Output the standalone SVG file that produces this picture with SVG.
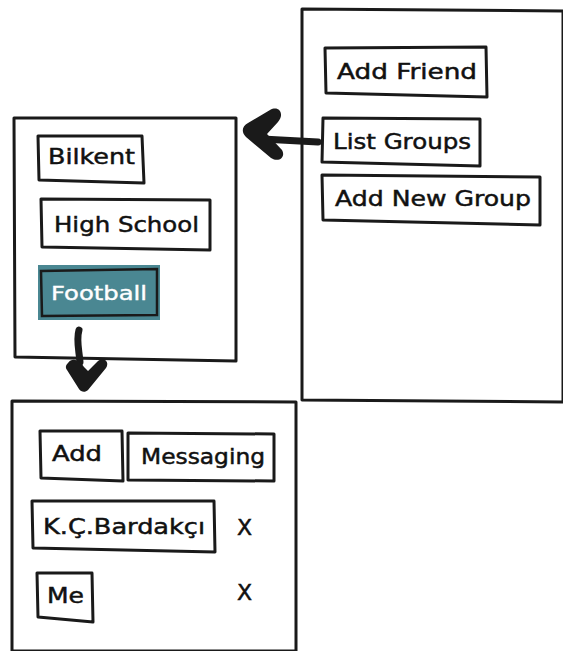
<svg xmlns="http://www.w3.org/2000/svg" width="563" height="651" viewBox="0 0 563 651">
<style>
.panel{fill:#fff;stroke:#1a1a1a;stroke-width:3;stroke-linejoin:round}
.btn{fill:#fff;stroke:#1a1a1a;stroke-width:3;stroke-linejoin:round}
.t{font-family:"DejaVu Sans",sans-serif;font-size:22px;fill:#111;stroke:#111;stroke-width:0.5}
.tw{font-family:"DejaVu Sans",sans-serif;font-size:20px;fill:#fff;stroke:#fff;stroke-width:0.4}
.arr{fill:none;stroke:#1a1a1a;stroke-width:7;stroke-linecap:round;stroke-linejoin:round}
</style>
<rect width="563" height="651" fill="#fff"/>
<g id="main-panel">
<path class="panel" d="M302 9 L563 11 L563 402 L302 400 Z"/>
</g>
<g id="add-friend">
<path class="btn" d="M325 48 L486 47 L487 97 L326 93 Z"/>
<text class="t" x="337" y="79" textLength="140" lengthAdjust="spacingAndGlyphs">Add Friend</text>
</g>
<g id="list-groups">
<path class="btn" d="M323 118 L480 119 L480 166 L322 162 Z"/>
<text class="t" x="333" y="149" textLength="138" lengthAdjust="spacingAndGlyphs">List Groups</text>
</g>
<g id="add-new-group">
<path class="btn" d="M322 175 L540 177 L540 225 L323 220 Z"/>
<text class="t" x="335" y="206" textLength="196" lengthAdjust="spacingAndGlyphs">Add New Group</text>
</g>
<g id="groups-panel">
<path class="panel" d="M14 118 L236 118 L236 361 L15 357 Z"/>
</g>
<g id="bilkent">
<path class="btn" d="M38 136 L142 136 L144 183 L39 180 Z"/>
<text class="t" x="48" y="164" textLength="87" lengthAdjust="spacingAndGlyphs">Bilkent</text>
</g>
<g id="high-school">
<path class="btn" d="M41 199 L210 200 L210 250 L42 247 Z"/>
<text class="t" x="54" y="232" textLength="145" lengthAdjust="spacingAndGlyphs">High School</text>
</g>
<g id="football">
<rect x="38" y="265" width="122" height="55" fill="#4a8792"/>
<path fill="none" stroke="#1a1a1a" stroke-width="2.5" d="M41 271 L157 269 L157 315 L42 316 Z"/>
<text class="tw" x="51" y="300" textLength="96" lengthAdjust="spacingAndGlyphs">Football</text>
</g>
<g id="members-panel">
<path class="panel" d="M12 401 L296 402 L296 651 L12 651 Z"/>
</g>
<g id="add">
<path class="btn" d="M40 431 L122 431 L123 481 L41 478 Z"/>
<text class="t" x="52" y="461" textLength="50" lengthAdjust="spacingAndGlyphs">Add</text>
</g>
<g id="messaging">
<path class="btn" d="M128 433 L274 434 L274 481 L128 480 Z"/>
<text class="t" x="141" y="464" textLength="124" lengthAdjust="spacingAndGlyphs">Messaging</text>
</g>
<g id="bardakci">
<path class="btn" d="M32 501 L214 501 L215 552 L33 548 Z"/>
<text class="t" x="43" y="534" textLength="162" lengthAdjust="spacingAndGlyphs">K.Ç.Bardakçı</text>
</g>
<text class="t" x="237" y="535">X</text>
<g id="me">
<path class="btn" d="M37 573 L92 573 L93 622 L38 617 Z"/>
<text class="t" x="47" y="603" textLength="37" lengthAdjust="spacingAndGlyphs">Me</text>
</g>
<text class="t" x="237" y="600">X</text>
<g id="connectors">
<path class="arr" d="M318 142 L262 139"/>
<path d="M270 110 C279 105 285 114 278 122 L267 134 L282 150 C286 157 279 163 271 158 L246 137 C241 132 242 126 248 123 Z" fill="#1a1a1a"/>
<path class="arr" d="M79 330 C76 340 79 350 80 362"/>
<path d="M68 363 C72 357 80 360 84 367 L88 371 L98 361 C104 356 110 362 106 368 L88 390 C85 393 81 392 79 389 L67 370 C65 367 66 365 68 363 Z" fill="#1a1a1a"/>
</g>
</svg>
